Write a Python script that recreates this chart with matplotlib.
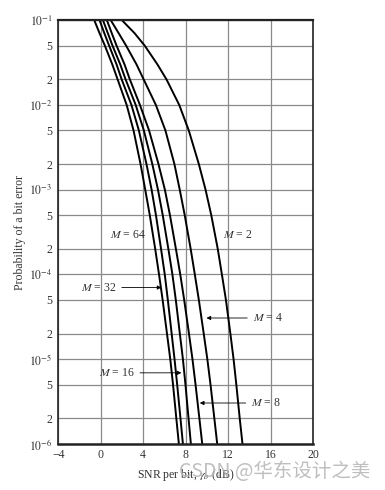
import numpy as np
import matplotlib
matplotlib.use('Agg')
import matplotlib.pyplot as plt
from matplotlib.ticker import FixedLocator, FixedFormatter

plt.rcParams['font.family'] = ['Liberation Serif', 'DejaVu Serif']
plt.rcParams['mathtext.fontset'] = 'stix'

# bit error levels (grid rows) and SNR per bit (dB)
pb = [1e-1, 7e-2, 5e-2, 3e-2, 2e-2, 1e-2, 5e-3, 2e-3, 1e-3, 5e-4, 2e-4, 1e-4,
      5e-5, 2e-5, 1e-5, 5e-6, 2e-6, 1e-6]
snr_m2 = [2.0, 3.2, 4.15, 5.35, 6.2, 7.4, 8.3, 9.25, 9.88, 10.42, 11.03, 11.42,
          11.8, 12.22, 12.52, 12.78, 13.1, 13.36]
snr_m4 = [0.95, 1.7, 2.4, 3.38, 4.05, 5.2, 6.1, 6.95, 7.45, 7.92, 8.48, 8.87,
          9.25, 9.71, 10.05, 10.35, 10.71, 10.98]
snr_m8 = [0.59, 1.05, 1.5, 2.25, 2.75, 3.7, 4.56, 5.45, 6.05, 6.53, 7.09, 7.5,
          7.87, 8.32, 8.65, 8.94, 9.3, 9.57]
snr_m16 = [0.22, 0.68, 1.12, 1.85, 2.35, 3.3, 4.07, 4.87, 5.4, 5.85, 6.38, 6.76,
           7.08, 7.46, 7.75, 7.99, 8.28, 8.5]
snr_m32 = [-0.1, 0.35, 0.8, 1.5, 1.98, 2.9, 3.6, 4.32, 4.8, 5.21, 5.69, 6.04,
           6.33, 6.69, 6.96, 7.21, 7.52, 7.75]
snr_m64 = [-0.6, -0.1, 0.4, 1.1, 1.6, 2.45, 3.1, 3.76, 4.2, 4.63, 5.14, 5.5,
           5.84, 6.25, 6.56, 6.82, 7.13, 7.37]

xticks = [-4, 0, 4, 8, 12, 16, 20]
ymajor = [1e-6, 1e-5, 1e-4, 1e-3, 1e-2, 1e-1]
yminor = [2e-6, 5e-6, 2e-5, 5e-5, 2e-4, 5e-4, 2e-3, 5e-3, 2e-2, 5e-2]

fig = plt.figure(figsize=(3.85, 4.9), dpi=100)
ax = fig.add_axes([0.151, 0.094, 0.662, 0.865])

for s in [snr_m2, snr_m4, snr_m8, snr_m16, snr_m32, snr_m64]:
    ax.plot(s, pb, color='black', lw=1.4, solid_joinstyle='round')

ax.set_yscale('log')
ax.set_xlim(-4, 20)
ax.set_ylim(1e-6, 1e-1)

ax.xaxis.set_major_locator(FixedLocator(xticks))
ax.set_xticklabels([str(t).replace('-', '\u2212') for t in xticks])
ax.yaxis.set_major_locator(FixedLocator(ymajor))
ax.yaxis.set_major_formatter(FixedFormatter([r'$10^{-6}$', r'$10^{-5}$', r'$10^{-4}$',
                                             r'$10^{-3}$', r'$10^{-2}$', r'$10^{-1}$']))
ax.yaxis.set_minor_locator(FixedLocator(yminor))
ax.yaxis.set_minor_formatter(FixedFormatter(['2', '5'] * 5))

ax.tick_params(which='both', length=0, labelsize=8.5, colors='#333333', pad=4)
ax.grid(True, which='both', color='#8a8a8a', lw=0.9)
ax.set_axisbelow(True)
for sp in ax.spines.values():
    sp.set_color('#222222')
    sp.set_linewidth(1.2)
ax.spines['bottom'].set_linewidth(1.8)
ax.spines['top'].set_linewidth(1.6)

ax.set_ylabel('Probability of a bit error', fontsize=8.5, color='#333333', labelpad=2)
ax.set_xlabel(r'SNR per bit, $\gamma_b$ (dB)', fontsize=8.5, color='#333333', labelpad=4)

ap = dict(arrowstyle='-|>', color='black', lw=0.6, mutation_scale=6, shrinkA=2, shrinkB=0)
ax.text(2.55, 2.9e-4, r'$M$ = 64', fontsize=8.5, ha='center', va='center', color='#333333')
ax.text(12.9, 2.9e-4, r'$M$ = 2', fontsize=8.5, ha='center', va='center', color='#333333')
ax.annotate(r'$M$ = 32', xy=(5.73, 7e-5), xytext=(-0.2, 7e-5), fontsize=8.5,
            ha='center', va='center', color='#333333', arrowprops=ap)
ax.annotate(r'$M$ = 4', xy=(9.97, 3.06e-5), xytext=(15.75, 3.06e-5), fontsize=8.5,
            ha='center', va='center', color='#333333', arrowprops=ap)
ax.annotate(r'$M$ = 16', xy=(7.61, 6.9e-6), xytext=(1.5, 6.9e-6), fontsize=8.5,
            ha='center', va='center', color='#333333', arrowprops=ap)
ax.annotate(r'$M$ = 8', xy=(9.34, 3.04e-6), xytext=(15.6, 3.04e-6), fontsize=8.5,
            ha='center', va='center', color='#333333', arrowprops=ap)

# watermark over the axis title, as in the source image
fig.text(0.714, 0.037, 'CSDN @华东设计之美', fontsize=14, color='#b8b8b8', alpha=0.9,
         ha='center', va='center', family=['Noto Sans CJK SC', 'DejaVu Sans'])

fig.savefig('out.png', dpi=100)
